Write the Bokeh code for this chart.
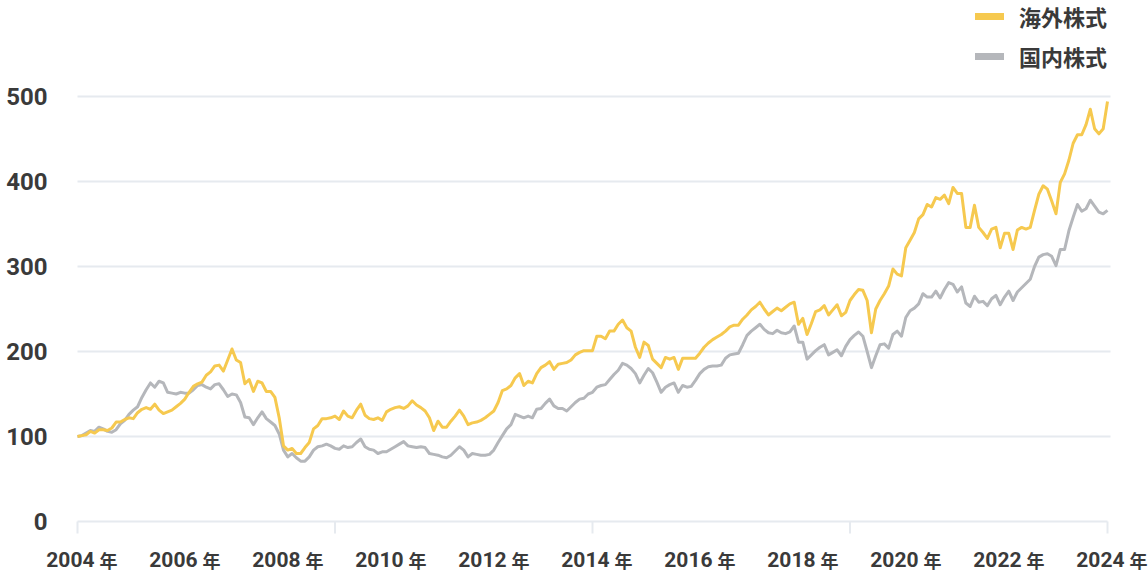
from bokeh.plotting import figure
from bokeh.models import Range1d, Legend, LegendItem
from bokeh.core.properties import value
from bokeh.embed import file_html
from bokeh.resources import INLINE

# ---- data (monthly index values, 2004-01 = 100) ----
overseas = [
    100, 101, 102, 106, 104, 108, 108, 107, 110, 117, 117, 120,
    122, 121, 128, 132, 134, 132, 138, 131, 127, 129, 131, 135,
    139, 144, 152, 159, 162, 164, 172, 176, 183, 184, 177, 190,
    203, 190, 187, 162, 167, 153, 165, 163, 153, 153, 146, 122,
    89, 84, 86, 80, 80, 87, 93, 109, 113, 121, 121, 122,
    124, 120, 130, 124, 122, 131, 138, 125, 121, 120, 122, 119,
    129, 132, 134, 135, 133, 136, 142, 137, 134, 130, 122, 107,
    118, 111, 111, 118, 124, 131, 124, 114, 116, 117, 119, 122,
    126, 130, 140, 154, 156, 160, 169, 174, 160, 165, 163, 174,
    181, 184, 188, 179, 185, 186, 187, 190, 196, 199, 201, 201,
    201, 218, 218, 215, 224, 224, 232, 237, 228, 224, 205, 193,
    211, 207, 191, 186, 181, 193, 191, 193, 179, 192, 192, 192,
    192, 198, 205, 210, 214, 217, 220, 224, 229, 231, 231, 238,
    243, 249, 253, 258, 250, 243, 247, 251, 248, 252, 256, 258,
    232, 239, 220, 233, 247, 249, 254, 243, 249, 255, 242, 246,
    260, 267, 273, 272, 260, 222, 250, 260, 268, 277, 297, 291,
    289, 322, 331, 340, 356, 361, 373, 370, 381, 379, 384, 374,
    393, 386, 386, 346, 346, 372, 346, 340, 333, 344, 346, 322,
    339, 339, 320, 343, 346, 344, 346, 366, 385, 395, 391, 377,
    362, 399, 409, 425, 445, 455, 455, 467, 485, 462, 456, 462,
    494,
]
domestic = [
    100, 101, 104, 107, 106, 111, 109, 106, 105, 108, 115, 119,
    126, 131, 135, 146, 155, 163, 158, 165, 163, 152, 151, 150,
    152, 151, 151, 155, 160, 161, 158, 156, 161, 162, 155, 147,
    150, 149, 140, 123, 122, 114, 122, 129, 121, 117, 113, 103,
    84, 76, 80, 75, 71, 71, 76, 84, 88, 89, 91, 89,
    86, 85, 89, 87, 88, 93, 97, 88, 85, 84, 80, 82,
    82, 85, 88, 91, 94, 89, 88, 87, 88, 87, 80, 79,
    78, 76, 75, 78, 83, 88, 84, 76, 80, 79, 78, 78,
    79, 84, 93, 101, 109, 114, 126, 124, 122, 124, 122, 132,
    133, 139, 144, 136, 133, 133, 130, 135, 140, 144, 145, 150,
    152, 158, 160, 161, 167, 173, 178, 186, 184, 180, 174, 163,
    172, 180, 175, 164, 152, 158, 161, 163, 152, 160, 158, 159,
    166, 174, 179, 182, 183, 183, 184, 192, 196, 197, 198, 208,
    219, 224, 228, 232, 226, 222, 221, 225, 222, 221, 223, 230,
    211, 211, 191, 196, 201, 205, 208, 196, 199, 202, 195, 206,
    214, 219, 223, 218, 200, 181, 195, 208, 209, 204, 220, 224,
    218, 240, 248, 251, 256, 268, 264, 264, 271, 263, 273, 281,
    279, 270, 276, 257, 253, 265, 258, 259, 254, 262, 266, 255,
    264, 271, 260, 270, 275, 280, 285, 300, 311, 314, 315, 312,
    301, 320, 320, 342, 358, 373, 365, 368, 378, 371, 364, 362,
    366,
]
series_names = ["海外株式", "国内株式"]
start_year = 2004
end_year = 2024
x_years = [start_year + i / 12 for i in range(len(overseas))]

label_years = list(range(2004, 2025, 2))
year_suffix = "年"
tick_years = [2004, 2009, 2014, 2019, 2024]
y_ticks = [0, 100, 200, 300, 400, 500]
grid_ticks = [100, 200, 300, 400, 500]

# ---- styles / geometry ----
YELLOW = "#F6C94F"
GREY = "#B5B7BB"
GRID = "#E6EAEF"
TEXT = "#3a3a3a"
NUM_FONT = "Roboto, 'Noto Sans CJK JP', sans-serif"
JP_FONT = "'Noto Sans CJK JP', sans-serif"
W, H = 1148, 572
PX_X = 51.5               # screen px per year
PX_Y = 0.85               # screen px per index unit
ORIGIN_X, ORIGIN_Y = 77, 521   # screen position of (2004, 0)
x_lo = start_year - ORIGIN_X / PX_X
y_lo = -(H - ORIGIN_Y) / PX_Y

p = figure(
    width=W, height=H,
    x_range=Range1d(x_lo, x_lo + W / PX_X), y_range=Range1d(y_lo, y_lo + H / PX_Y),
    output_backend="svg", toolbar_location=None,
    min_border_left=0, min_border_right=0, min_border_top=0, min_border_bottom=0,
)
p.outline_line_color = None
p.background_fill_color = "white"
p.border_fill_color = "white"
p.xaxis.visible = False
p.yaxis.visible = False
p.xgrid.visible = False
p.ygrid.visible = False

# horizontal grid lines and base line
grid_end = end_year + 3 / PX_X
p.segment(x0=[start_year] * len(grid_ticks), y0=grid_ticks,
          x1=[grid_end] * len(grid_ticks), y1=grid_ticks,
          line_color=GRID, line_width=2)
p.segment(x0=[start_year], y0=[0], x1=[end_year], y1=[0], line_color=GRID, line_width=2)

# y tick labels
p.text(x=[start_year] * len(y_ticks), y=y_ticks, text=[str(v) for v in y_ticks],
       x_offset=-30, text_align="right", text_baseline="middle",
       text_font=value(NUM_FONT), text_font_size="24px", text_font_style="bold",
       text_color=TEXT)

# x ticks (every 5 years) and year labels (every 2 years)
tick_len = 12 / PX_Y
p.segment(x0=tick_years, y0=[0] * len(tick_years), x1=tick_years,
          y1=[-tick_len] * len(tick_years), line_color=GRID, line_width=2)
label_y = [-38 / PX_Y] * len(label_years)
p.text(x=label_years, y=label_y, text=[str(y) for y in label_years],
       x_offset=17, text_align="right", text_baseline="middle",
       text_font=value(NUM_FONT), text_font_size="21px", text_font_style="bold",
       text_color=TEXT)
p.text(x=label_years, y=label_y, text=[year_suffix] * len(label_years),
       x_offset=22, text_align="left", text_baseline="middle",
       text_font=value(JP_FONT), text_font_size="18px", text_font_style="bold",
       text_color=TEXT)

# series lines
p.line(x_years, domestic, line_color=GREY, line_width=3, line_join="round")
p.line(x_years, overseas, line_color=YELLOW, line_width=3, line_join="round")

# legend swatches (thick rounded lines, nothing plotted)
nan = float("nan")
leg_o = p.line(x=[nan], y=[nan], line_color=YELLOW, line_width=7, line_cap="round")
leg_d = p.line(x=[nan], y=[nan], line_color=GREY, line_width=7, line_cap="round")
legend = Legend(
    items=[LegendItem(label=series_names[0], renderers=[leg_o]),
           LegendItem(label=series_names[1], renderers=[leg_d])],
    location=(975, 498),
    padding=0, margin=0, spacing=4,
    glyph_width=29, glyph_height=36, label_height=36, label_standoff=15,
    border_line_color=None, background_fill_alpha=0,
    label_text_font=JP_FONT, label_text_font_size="22px",
    label_text_font_style="bold", label_text_color=TEXT,
)
p.add_layout(legend)

open("out.html", "w").write(file_html(p, INLINE))
